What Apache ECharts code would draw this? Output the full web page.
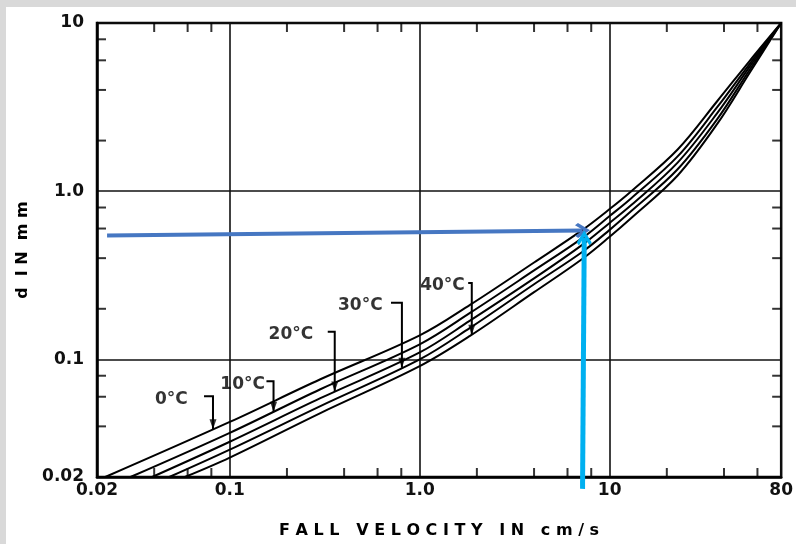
<!DOCTYPE html>
<html><head><meta charset="utf-8">
<script src="https://cdn.jsdelivr.net/npm/echarts@6/dist/echarts.min.js"></script>
<style>html,body{margin:0;padding:0;background:#fff}#c{width:796px;height:544px}</style>
</head><body><div id="c"></div>
<script>
// ---- axis ticks ----
const xTickValues = [0.02, 0.1, 1, 10, 80];
const xTickLabels = ['0.02', '0.1', '1.0', '10', '80'];
const yTickValues = [0.02, 0.1, 1, 10];
const yTickLabels = ['0.02', '0.1', '1.0', '10'];
const xMinorTicks = [0.04, 0.06, 0.08, 0.2, 0.4, 0.6, 0.8, 2, 4, 6, 8, 20, 40, 60];
const yMinorTicks = [0.04, 0.06, 0.08, 0.2, 0.4, 0.6, 0.8, 2, 4, 6, 8];

// ---- curves: fall velocity (cm/s) vs grain diameter (mm) ----
const curveNames = ['0°C', '10°C', '20°C', '30°C', '40°C'];
const velocity0  = [0.0221, 0.1, 0.3, 1, 1.84, 4, 7.2, 10, 13, 22.8, 37, 54.5, 80];
const diameter0  = [0.02, 0.0425, 0.0762, 0.139, 0.211, 0.377, 0.589, 0.783, 1.0, 1.77, 3.45, 5.94, 10];
const velocity10 = [0.030, 0.1, 0.3, 1, 1.84, 4, 7.2, 10, 13, 22.8, 37, 54.5, 80];
const diameter10 = [0.02, 0.0366, 0.0665, 0.123, 0.189, 0.338, 0.528, 0.712, 0.909, 1.61, 3.18, 5.70, 10];
const velocity20 = [0.039, 0.1, 0.3, 1, 1.84, 4, 7.2, 10, 13, 22.8, 37, 54.5, 80];
const diameter20 = [0.02, 0.0324, 0.0588, 0.110, 0.170, 0.303, 0.481, 0.648, 0.827, 1.48, 2.93, 5.48, 10];
const velocity30 = [0.048, 0.1, 0.3, 1, 1.84, 4, 7.2, 10, 13, 22.8, 37, 54.5, 80];
const diameter30 = [0.02, 0.0291, 0.0528, 0.100, 0.154, 0.280, 0.437, 0.589, 0.762, 1.35, 2.70, 5.26, 10];
const velocity40 = [0.058, 0.1, 0.3, 1, 1.84, 4, 7.2, 10, 13, 22.8, 37, 54.5, 80];
const diameter40 = [0.02, 0.0261, 0.0480, 0.0912, 0.138, 0.251, 0.397, 0.536, 0.693, 1.24, 2.53, 5.04, 10];

// ---- temperature label annotations (data coordinates) ----
const labelTextRightV = [0.0612, 0.156, 0.28, 0.65, 1.76];
const labelBracketStartV = [0.0732, 0.156, 0.328, 0.706, 1.80];
const labelTipV = [0.0816, 0.170, 0.357, 0.806, 1.88];
const labelBracketD = [0.0605, 0.0742, 0.146, 0.217, 0.285];

// ---- blue reading arrows (data coordinates) ----
const readArrowH = [[0.0226, 0.545], [7.2, 0.585]];
const readArrowV = [[7.2, 0.017], [7.35, 0.527]];

const velocities = [velocity0, velocity10, velocity20, velocity30, velocity40];
const diameters = [diameter0, diameter10, diameter20, diameter30, diameter40];

function interpLog(vs, ds, v) {
  const lv = Math.log10(v);
  for (let i = 0; i < vs.length - 1; i++) {
    const a = Math.log10(vs[i]), b = Math.log10(vs[i + 1]);
    if (lv >= a && lv <= b) {
      const t = (lv - a) / (b - a);
      return Math.pow(10, Math.log10(ds[i]) + t * (Math.log10(ds[i + 1]) - Math.log10(ds[i])));
    }
  }
  return ds[0];
}
function tickFmt(values, labels) {
  return function (val) {
    for (let i = 0; i < values.length; i++) {
      if (Math.abs(Math.log10(val) - Math.log10(values[i])) < 1e-4) return labels[i];
    }
    return '';
  };
}

const xMin = xTickValues[0], xMax = xTickValues[xTickValues.length - 1];
const yMin = yTickValues[0], yMax = yTickValues[yTickValues.length - 1];
const FONT = 'DejaVu Sans';

const chevron = 'path://M0,0 L12,12 L8.5,15 L0,6.5 L-8.5,15 L-12,12 Z';
const downTriangle = 'path://M0,10 L-4,0 L4,0 Z';

const series = [];
curveNames.forEach((n, k) => {
  series.push({
    name: n, type: 'line', showSymbol: false, smooth: 0.35,
    data: velocities[k].map((v, i) => [v, diameters[k][i]]),
    lineStyle: { color: '#000', width: 2 }, z: 3, silent: true
  });
});
// minor ticks on all four sides
const tickStyle = { color: '#000' };
series.push({ type: 'scatter', symbol: 'rect', symbolSize: [2, 9], symbolOffset: [0, -4.5], clip: false, silent: true,
  itemStyle: tickStyle, data: xMinorTicks.map(v => [v, yMin]), z: 5 });
series.push({ type: 'scatter', symbol: 'rect', symbolSize: [2, 9], symbolOffset: [0, 4.5], clip: false, silent: true,
  itemStyle: tickStyle, data: xMinorTicks.map(v => [v, yMax]), z: 5 });
series.push({ type: 'scatter', symbol: 'rect', symbolSize: [9, 2], symbolOffset: [4.5, 0], clip: false, silent: true,
  itemStyle: tickStyle, data: yMinorTicks.map(d => [xMin, d]), z: 5 });
series.push({ type: 'scatter', symbol: 'rect', symbolSize: [9, 2], symbolOffset: [-4.5, 0], clip: false, silent: true,
  itemStyle: tickStyle, data: yMinorTicks.map(d => [xMax, d]), z: 5 });
// temperature labels
series.push({ type: 'scatter', symbolSize: 1, clip: false, silent: true, itemStyle: { color: 'rgba(0,0,0,0)' },
  data: curveNames.map((n, i) => ({ name: n, value: [labelTextRightV[i], labelBracketD[i]] })),
  label: { show: true, position: 'left', distance: 1, offset: [0, 3], formatter: '{b}', color: '#000',
    fontFamily: FONT, fontWeight: 'bold', fontSize: 17 }, z: 6 });
// brackets
series.push({ type: 'lines', coordinateSystem: 'cartesian2d', polyline: true, clip: false, silent: true,
  lineStyle: { color: '#000', width: 2, opacity: 1 },
  data: curveNames.map((n, i) => ({ coords: [
    [labelBracketStartV[i], labelBracketD[i]],
    [labelTipV[i], labelBracketD[i]],
    [labelTipV[i], interpLog(velocities[i], diameters[i], labelTipV[i])]
  ] })), z: 6 });
// bracket arrowheads (tip on the curve)
series.push({ type: 'scatter', symbol: downTriangle, symbolSize: [7, 10], symbolOffset: [0, -5], clip: false, silent: true,
  itemStyle: { color: '#000' },
  data: curveNames.map((n, i) => [labelTipV[i], interpLog(velocities[i], diameters[i], labelTipV[i])]), z: 7 });
// blue reading arrows
series.push({ type: 'lines', coordinateSystem: 'cartesian2d', clip: false, silent: true,
  symbol: ['none', chevron], symbolSize: [22, 15],
  data: [
    { coords: readArrowH, lineStyle: { color: '#4677C2', width: 4, opacity: 1 } },
    { coords: readArrowV, lineStyle: { color: '#00B0F0', width: 5, opacity: 1 } }
  ], z: 8 });

const chart = echarts.init(document.getElementById('c'), null, { renderer: 'canvas' });
chart.setOption({
  animation: false,
  backgroundColor: '#fff',
  graphic: [
    { type: 'rect', shape: { x: 0, y: 0, width: 796, height: 7 }, style: { fill: '#d9d9d9' }, z: -10 },
    { type: 'rect', shape: { x: 0, y: 0, width: 6, height: 544 }, style: { fill: '#d9d9d9' }, z: -10 }
  ],
  grid: { left: 97, right: 14, top: 23, bottom: 64, show: true, borderColor: '#000', borderWidth: 2.5 },
  xAxis: {
    type: 'log', logBase: 10, min: xMin, max: xMax,
    name: 'F A L L   V E L O C I T Y   I N   c m / s', nameLocation: 'middle', nameGap: 46,
    nameTextStyle: { fontFamily: FONT, fontSize: 16, fontWeight: 'bold', color: '#000' },
    axisLine: { show: true, lineStyle: { color: '#000', width: 2.5 } },
    axisTick: { show: false }, minorTick: { show: false },
    axisLabel: { formatter: tickFmt(xTickValues, xTickLabels), showMinLabel: true, showMaxLabel: true,
      margin: 5, fontFamily: FONT, fontSize: 17, fontWeight: 'bold', color: '#111' },
    splitLine: { show: true, lineStyle: { color: '#111', width: 1.6 } }
  },
  yAxis: {
    type: 'log', logBase: 10, min: yMin, max: yMax,
    name: 'd  I N  m m', nameLocation: 'middle', nameGap: 66,
    nameTextStyle: { fontFamily: FONT, fontSize: 16, fontWeight: 'bold', color: '#000' },
    axisLine: { show: true, lineStyle: { color: '#000', width: 2.5 } },
    axisTick: { show: false }, minorTick: { show: false },
    axisLabel: { formatter: tickFmt(yTickValues, yTickLabels), showMinLabel: true, showMaxLabel: true,
      margin: 13, fontFamily: FONT, fontSize: 17, fontWeight: 'bold', color: '#111' },
    splitLine: { show: true, lineStyle: { color: '#111', width: 1.6 } }
  },
  series: series
});
</script></body></html>
